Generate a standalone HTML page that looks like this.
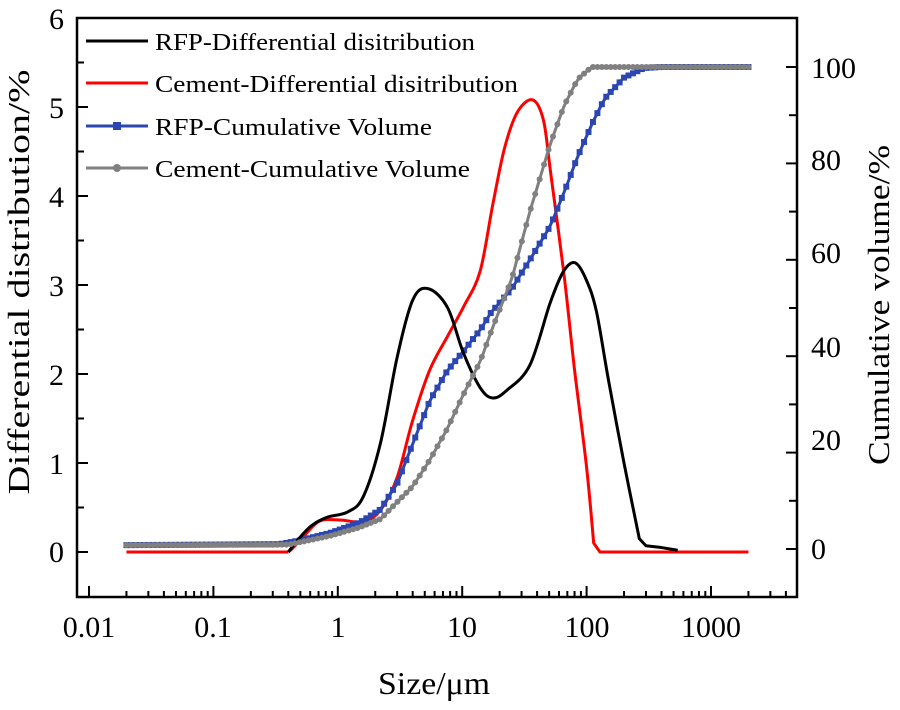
<!DOCTYPE html>
<html><head><meta charset="utf-8"><style>
html,body{margin:0;padding:0;background:#fff;}
svg text{font-family:"Liberation Serif",serif;}
</style></head><body>
<svg id="s" width="900" height="705" viewBox="0 0 900 705" xmlns="http://www.w3.org/2000/svg">
<rect x="0" y="0" width="900" height="705" fill="#fff"/>
<g id="plot"></g>
<rect x="77" y="18" width="720" height="579" fill="none" stroke="#000" stroke-width="2.5"/>
<g id="ticks" stroke="#000" stroke-width="2"></g>
<g font-size="30" fill="#000">
<text x="64" y="29" text-anchor="end">6</text>
<text x="64" y="118" text-anchor="end">5</text>
<text x="64" y="207" text-anchor="end">4</text>
<text x="64" y="296" text-anchor="end">3</text>
<text x="64" y="385" text-anchor="end">2</text>
<text x="64" y="474" text-anchor="end">1</text>
<text x="64" y="562" text-anchor="end">0</text>
<text x="811" y="78">100</text>
<text x="811" y="170">80</text>
<text x="811" y="263">60</text>
<text x="811" y="357">40</text>
<text x="811" y="450">20</text>
<text x="811" y="559">0</text>
<text x="89" y="637" text-anchor="middle">0.01</text>
<text x="213" y="637" text-anchor="middle">0.1</text>
<text x="338" y="637" text-anchor="middle">1</text>
<text x="462" y="637" text-anchor="middle">10</text>
<text x="587" y="637" text-anchor="middle">100</text>
<text x="711" y="637" text-anchor="middle">1000</text>
</g>
<text x="434" y="694" font-size="32" text-anchor="middle" textLength="112" lengthAdjust="spacingAndGlyphs">Size/μm</text>
<text transform="translate(29,282) rotate(-90)" font-size="31" text-anchor="middle" textLength="425" lengthAdjust="spacingAndGlyphs">Differential distribution/%</text>
<text transform="translate(889,305) rotate(-90)" font-size="31" text-anchor="middle" textLength="320" lengthAdjust="spacingAndGlyphs">Cumulative volume/%</text>
<g font-size="24">
<line x1="86" y1="41" x2="148" y2="41" stroke="#000" stroke-width="3"/>
<text x="155" y="50" textLength="320" lengthAdjust="spacingAndGlyphs">RFP-Differential disitribution</text>
<line x1="86" y1="83" x2="148" y2="83" stroke="#f00" stroke-width="3"/>
<text x="155" y="92" textLength="363" lengthAdjust="spacingAndGlyphs">Cement-Differential disitribution</text>
<line x1="86" y1="126" x2="148" y2="126" stroke="#2b46b0" stroke-width="3"/>
<rect x="113" y="122" width="8" height="8" fill="#2b46b0"/>
<text x="155" y="135" textLength="277" lengthAdjust="spacingAndGlyphs">RFP-Cumulative Volume</text>
<line x1="86" y1="168" x2="148" y2="168" stroke="#808080" stroke-width="3"/>
<circle cx="117" cy="168" r="4" fill="#808080"/>
<text x="155" y="177" textLength="315" lengthAdjust="spacingAndGlyphs">Cement-Cumulative Volume</text>
</g>
</svg>
<script>
var NS="http://www.w3.org/2000/svg";
function X(u){return 89+(Math.log10(u)+2)*124.4;}
function YL(v){return 552-v*89;}
function YR(v){return 549-v*4.82;}
function cr(pts){
 var d="M"+pts[0][0].toFixed(1)+","+pts[0][1].toFixed(1);
 for(var i=0;i<pts.length-1;i++){
  var p0=pts[i-1]||pts[i],p1=pts[i],p2=pts[i+1],p3=pts[i+2]||p2;
  var t=0.5/3;
  d+=" C"+(p1[0]+(p2[0]-p0[0])*t).toFixed(1)+","+(p1[1]+(p2[1]-p0[1])*t).toFixed(1)+" "+
   (p2[0]-(p3[0]-p1[0])*t).toFixed(1)+","+(p2[1]-(p3[1]-p1[1])*t).toFixed(1)+" "+p2[0].toFixed(1)+","+p2[1].toFixed(1);
 }
 return d;
}
function interp(data,u){
 var lx=Math.log10(u);
 for(var i=0;i<data.length-1;i++){
  var a=Math.log10(data[i][0]),b=Math.log10(data[i+1][0]);
  if(lx>=a&&lx<=b){var t=(lx-a)/(b-a);return data[i][1]+(data[i+1][1]-data[i][1])*t;}
 }
 return data[data.length-1][1];
}
var g=document.getElementById("plot");
function path(d,col,w){var p=document.createElementNS(NS,"path");p.setAttribute("d",d);p.setAttribute("fill","none");p.setAttribute("stroke",col);p.setAttribute("stroke-width",w);p.setAttribute("stroke-linejoin","round");g.appendChild(p);}
var blue=[[0.02,0.8],[0.34,1.0],[0.5,1.8],[0.86,3.3],[1.5,5.5],[2.2,8.2],[3,13.6],[4,21.8],[5.5,30.8],[7.6,37],[10.2,41],[14,45.5],[17,49],[25,54],[35,60],[51,67],[66,74],[85,81.5],[112,88.5],[140,93.5],[200,97.8],[290,99.8],[400,100],[2000,100]];
var gray=[[0.02,0.8],[0.4,0.9],[0.86,2.7],[1.5,4.5],[2.2,6.2],[4,13],[5.5,18.5],[7.6,25],[10.2,32],[14,39],[17.6,46],[25,56],[35,70],[51,84],[66,92],[85,97.5],[110,100],[2000,100]];
var red=[[0.4,0],[0.44,0.05],[0.55,0.2],[0.72,0.35],[1.04,0.36],[1.6,0.34],[2.2,0.47],[3,0.84],[4,1.48],[5.5,2.05],[7.6,2.42],[10.2,2.75],[13.9,3.15],[17.6,3.9],[22,4.55],[28,4.95],[37,5.08],[45,4.85],[51,4.3],[66,3.1],[80,2.05],[100,0.95],[114,0.1]];
var black=[[0.4,0],[0.5,0.17],[0.62,0.3],[0.82,0.39],[1.2,0.45],[1.6,0.62],[2.2,1.22],[3,2.19],[4,2.83],[5.3,2.96],[7.6,2.75],[10.2,2.24],[13.9,1.85],[17.6,1.73],[23,1.82],[35,2.1],[51,2.8],[65,3.15],[81,3.25],[100,3.05],[120,2.7],[150,1.93],[200,1.0],[265,0.15]];
function mk(data,Y){return data.map(function(p){return [X(p[0]),Y(p[1])];});}
function cum(data,col,sq){
 var pts=[];var N=140;
 for(var i=0;i<=N;i++){var u=Math.pow(10,Math.log10(0.02)+i*(Math.log10(2000)-Math.log10(0.02))/N);pts.push([X(u),YR(interp(data,u))]);}
 path(cr(pts),col,3);
 for(var i=0;i<pts.length;i++){
  var e;
  if(sq){e=document.createElementNS(NS,"rect");e.setAttribute("x",pts[i][0]-3);e.setAttribute("y",pts[i][1]-3);e.setAttribute("width",6);e.setAttribute("height",6);}
  else{e=document.createElementNS(NS,"circle");e.setAttribute("cx",pts[i][0]);e.setAttribute("cy",pts[i][1]);e.setAttribute("r",3);}
  e.setAttribute("fill",col);g.appendChild(e);
 }
}
path("M"+X(0.02)+","+YL(0)+" L"+X(0.4)+","+YL(0),"#f00",3);
path(cr(mk(red,YL))+" L"+X(128)+","+YL(0)+" L"+X(2000)+","+YL(0),"#f00",3);
cum(blue,"#2b46b0",true);
path(cr(mk(black,YL))+" L"+X(300)+","+YL(0.07)+" L"+X(400)+","+YL(0.05)+" L"+X(540)+","+YL(0.02),"#000",3);
cum(gray,"#808080",false);
var t=document.getElementById("ticks"),s="";
function L(a,b,c,d){s+='<line x1="'+a+'" y1="'+b+'" x2="'+c+'" y2="'+d+'"/>';}
for(var v=0;v<=6;v+=0.5){var y=YL(v);L(77,y,v%1?84:88,y);}
for(var v=0;v<=100;v+=10){var y=YR(v);L(797,y,v%20?789:786,y);}
for(var e=-2;e<=3;e++){for(var k=1;k<10;k++){var u=k*Math.pow(10,e);var x=X(u);if(x>797)continue;L(x,597,x,k==1?586:591);}}
t.innerHTML=s;
</script>
</body></html>
